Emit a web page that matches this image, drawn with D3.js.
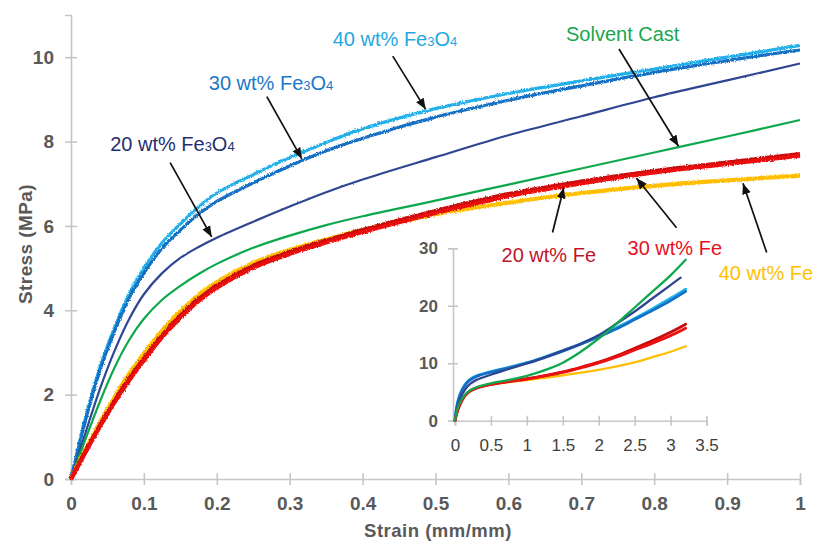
<!DOCTYPE html>
<html>
<head>
<meta charset="utf-8">
<script src="https://cdn.jsdelivr.net/npm/d3@7"></script>
<style>
  html, body { margin: 0; padding: 0; background: #fff; }
  svg { display: block; font-family: "Liberation Sans", Arial, sans-serif; }
</style>
</head>
<body>
<svg id="chart" width="818" height="542"></svg>
<script>
// ---- Main tensile curves: strain (mm/mm) vs stress (MPa) ----
const mainStrain  = [0, 0.02, 0.04, 0.06, 0.08, 0.1, 0.125, 0.15, 0.175, 0.2, 0.25, 0.3, 0.35, 0.4, 0.5, 0.6, 0.7, 0.8, 0.9, 1.0];
const fe3o4_40    = [0, 1.45, 2.65, 3.6, 4.4, 5.0, 5.6, 6.05, 6.45, 6.78, 7.22, 7.62, 7.98, 8.3, 8.78, 9.14, 9.44, 9.72, 10.0, 10.28];
const fe3o4_30    = [0, 1.4, 2.6, 3.52, 4.3, 4.88, 5.47, 5.9, 6.28, 6.58, 7.02, 7.42, 7.78, 8.08, 8.58, 8.98, 9.32, 9.64, 9.92, 10.17];
const fe3o4_20    = [0, 1.1, 2.15, 3.05, 3.8, 4.38, 4.88, 5.24, 5.5, 5.72, 6.1, 6.46, 6.8, 7.1, 7.63, 8.15, 8.6, 9.05, 9.45, 9.85];
const solventCast = [0, 0.95, 1.85, 2.65, 3.3, 3.8, 4.25, 4.58, 4.86, 5.1, 5.48, 5.77, 6.02, 6.23, 6.6, 6.98, 7.36, 7.74, 8.12, 8.51];
const fe_20       = [0, 0.65, 1.27, 1.85, 2.38, 2.85, 3.4, 3.87, 4.26, 4.58, 5.05, 5.38, 5.65, 5.9, 6.35, 6.75, 7.05, 7.3, 7.5, 7.7];
const fe_30       = [0, 0.63, 1.24, 1.81, 2.33, 2.8, 3.35, 3.82, 4.21, 4.53, 5.0, 5.33, 5.6, 5.85, 6.3, 6.7, 7.0, 7.26, 7.46, 7.66];
const fe_40       = [0, 0.7, 1.35, 1.95, 2.5, 2.98, 3.52, 3.98, 4.36, 4.67, 5.12, 5.43, 5.68, 5.9, 6.28, 6.55, 6.78, 6.95, 7.08, 7.19];

const mainXTicks = [0, 0.1, 0.2, 0.3, 0.4, 0.5, 0.6, 0.7, 0.8, 0.9, 1];
const mainYTicks = [0, 2, 4, 6, 8, 10];

// ---- Inset: full-range curves to break ----
const insetStrainA   = [0, 0.03, 0.07, 0.14, 0.21, 0.3, 0.5, 0.75, 1, 1.25, 1.5, 1.75, 2, 2.25, 2.5, 2.75, 3, 3.21];
const inset_fe3o4_40 = [0, 2.8, 4.6, 6.3, 7.2, 7.8, 8.55, 9.3, 10.1, 11.1, 12.2, 13.4, 14.7, 16.2, 17.8, 19.5, 21.3, 22.9];
const inset_fe3o4_30 = [0, 2.7, 4.5, 6.2, 7.1, 7.7, 8.45, 9.2, 10.0, 11.0, 12.1, 13.3, 14.6, 16.0, 17.6, 19.2, 20.9, 22.5];
const insetStrainB   = [0, 0.03, 0.07, 0.14, 0.21, 0.3, 0.5, 0.75, 1, 1.25, 1.5, 1.75, 2, 2.25, 2.5, 2.75, 3, 3.14];
const inset_fe3o4_20 = [0, 2.3, 3.8, 5.4, 6.4, 7.1, 8.0, 9.0, 10.0, 11.0, 12.2, 13.4, 14.9, 16.9, 19.0, 21.3, 23.6, 24.9];
const inset_solvent  = [0, 1.9, 3.2, 4.5, 5.3, 5.8, 6.5, 7.1, 7.8, 8.8, 10.1, 12.0, 14.3, 16.9, 19.7, 22.5, 25.3, 28.0];
const inset_fe_20    = [0, 1.6, 2.9, 4.4, 5.2, 5.7, 6.35, 6.85, 7.3, 7.85, 8.5, 9.3, 10.2, 11.3, 12.6, 13.95, 15.4, 16.8];
const inset_fe_30    = [0, 1.55, 2.85, 4.35, 5.15, 5.65, 6.3, 6.8, 7.25, 7.8, 8.4, 9.2, 10.05, 11.1, 12.3, 13.5, 14.8, 16.1];
const inset_fe_40    = [0, 1.6, 2.9, 4.4, 5.2, 5.7, 6.3, 6.7, 7.05, 7.45, 7.9, 8.35, 8.85, 9.45, 10.15, 11.05, 12.0, 12.95];

const insetXTicks = [0, 0.5, 1, 1.5, 2, 2.5, 3, 3.5];
const insetYTicks = [0, 10, 20, 30];

// ---- Series styling ----
const series = [
  { key: "fe3o4_40", main: fe3o4_40, ix: insetStrainA, iy: inset_fe3o4_40, color: "#22b0ea", text: "#1fa8e2", w: 3.2, rough: 3.6, iw: 2.8 },
  { key: "fe3o4_30", main: fe3o4_30, ix: insetStrainA, iy: inset_fe3o4_30, color: "#1370c4", text: "#1b78c8", w: 3.2, rough: 3.6, iw: 2.8 },
  { key: "fe3o4_20", main: fe3o4_20, ix: insetStrainB, iy: inset_fe3o4_20, color: "#2f4592", text: "#1f3070", w: 2.2, rough: 1.8, iw: 2.3 },
  { key: "solvent",  main: solventCast, ix: insetStrainA, iy: inset_solvent, color: "#10a84c", text: "#18a650", w: 2.2, rough: 1.5, iw: 2.3 },
  { key: "fe_40",    main: fe_40, ix: insetStrainA, iy: inset_fe_40, color: "#ffbf00", text: "#ffc000", w: 4.2, rough: 3.6, iw: 2.3 },
  { key: "fe_20",    main: fe_20, ix: insetStrainA, iy: inset_fe_20, color: "#c80a0a", text: "#c0142a", w: 4.4, rough: 3.6, iw: 2.8 },
  { key: "fe_30",    main: fe_30, ix: insetStrainA, iy: inset_fe_30, color: "#ec1010", text: "#e8101c", w: 3.6, rough: 3.6, iw: 2.8 }
];

// ---- Annotations: label, series, strain the arrow points at ----
const annotations = [
  { key: "fe3o4_40", strain: 0.488, label: ["40 wt% Fe", "3", "O", "4"], tail: [-34, -55], lab: [-60, -10], gap: 2 },
  { key: "fe3o4_30", strain: 0.318, label: ["30 wt% Fe", "3", "O", "4"], tail: [-36, -64], lab: [-58, -7], gap: 2 },
  { key: "fe3o4_20", strain: 0.195, label: ["20 wt% Fe", "3", "O", "4"], tail: [-43, -77], lab: [-60, -12], gap: 3 },
  { key: "solvent",  strain: 0.834, label: ["Solvent Cast"], tail: [-60, -98], lab: [-53, -8], gap: 1 },
  { key: "fe_20",    strain: 0.677, label: ["20 wt% Fe"], tail: [-12, 48], lab: [-51, 29], gap: 3 },
  { key: "fe_30",    strain: 0.773, label: ["30 wt% Fe"], tail: [42, 52], lab: [-49, 27], gap: 3 },
  { key: "fe_40",    strain: 0.92,  label: ["40 wt% Fe"], tail: [25, 73], lab: [-48, 28], gap: 4 }
];

const svg = d3.select("#chart");
const tickColor = "#595959";
const axisColor = "#c6c6c6";

// Ragged texture for the measured (noisy) traces
const defs = svg.append("defs");
series.forEach((s, i) => {
  const f = defs.append("filter").attr("id", "rough-" + s.key)
    .attr("filterUnits", "userSpaceOnUse").attr("x", 0).attr("y", 0).attr("width", 818).attr("height", 542);
  f.append("feTurbulence").attr("type", "fractalNoise").attr("baseFrequency", 0.75)
    .attr("numOctaves", 1).attr("seed", 3 + i).attr("result", "noise");
  f.append("feDisplacementMap").attr("in", "SourceGraphic").attr("in2", "noise")
    .attr("scale", s.rough).attr("xChannelSelector", "R").attr("yChannelSelector", "G");
});
defs.append("marker").attr("id", "arrowhead").attr("viewBox", "0 0 10 10")
  .attr("refX", 10).attr("refY", 5).attr("markerWidth", 11).attr("markerHeight", 11)
  .attr("markerUnits", "userSpaceOnUse").attr("orient", "auto")
  .append("path").attr("d", "M0,1 L10,5 L0,9 Z").attr("fill", "#111");

// ---- Main axes ----
const x = d3.scaleLinear().domain([0, 1]).range([71, 800]);
const y = d3.scaleLinear().domain([0, 11]).range([479, 15]);

function styleAxis(g, size) {
  g.select(".domain").attr("stroke", axisColor).attr("stroke-width", 1.6);
  g.selectAll(".tick line").attr("stroke", axisColor).attr("stroke-width", 1.6);
  g.selectAll(".tick text").attr("fill", tickColor).attr("font-size", size).attr("font-weight", "bold")
    .attr("font-family", "'Liberation Sans', Arial, sans-serif");
}

const xAxis = svg.append("g").attr("transform", `translate(0,${y(0)})`)
  .call(d3.axisBottom(x).tickValues(mainXTicks).tickFormat(d3.format("")).tickSizeOuter(0).tickSize(6).tickPadding(12));
styleAxis(xAxis, 19);
xAxis.selectAll(".tick line").attr("y1", -6);

const yAxis = svg.append("g").attr("transform", `translate(${x(0)},0)`)
  .call(d3.axisLeft(y).tickValues(mainYTicks).tickSizeOuter(0).tickSize(6).tickPadding(11));
styleAxis(yAxis, 19);
yAxis.selectAll(".tick line").attr("x1", 6);

svg.append("text").attr("x", 438).attr("y", 537).attr("text-anchor", "middle")
  .attr("font-size", 18.5).attr("font-weight", "bold").attr("fill", tickColor).attr("letter-spacing", 0.5)
  .text("Strain (mm/mm)");
svg.append("text").attr("transform", "translate(32,244) rotate(-90)").attr("text-anchor", "middle")
  .attr("font-size", 19).attr("font-weight", "bold").attr("fill", tickColor).attr("letter-spacing", 0.4)
  .text("Stress (MPa)");

// ---- Main curves ----
const mainLine = d3.line().x(d => x(d[0])).y(d => y(d[1])).curve(d3.curveCatmullRom.alpha(0.5));
const curvesG = svg.append("g");
series.forEach(s => {
  curvesG.append("path")
    .datum(mainStrain.map((v, i) => [v, s.main[i]]))
    .attr("d", mainLine).attr("fill", "none").attr("stroke", s.color)
    .attr("stroke-width", s.w).attr("stroke-linejoin", "round")
    .attr("filter", `url(#rough-${s.key})`);
});

// ---- Inset ----
const ix = d3.scaleLinear().domain([0, 3.5]).range([455, 706.5]);
const iy = d3.scaleLinear().domain([0, 30]).range([420.7, 248.3]);

const ixAxis = svg.append("g").attr("transform", `translate(0,${iy(0)})`)
  .call(d3.axisBottom(ix).tickValues(insetXTicks).tickFormat(d3.format("")).tickSizeOuter(0).tickSize(5).tickPadding(13));
styleAxis(ixAxis, 17);
ixAxis.selectAll(".tick line").attr("y1", -5);
ixAxis.selectAll(".tick text").attr("font-weight", "normal").attr("fill", "#404040");

const iyAxis = svg.append("g").attr("transform", `translate(${ix(0) - 2},0)`)
  .call(d3.axisLeft(iy).tickValues(insetYTicks).tickSizeOuter(0).tickSize(5).tickPadding(10));
styleAxis(iyAxis, 17);
iyAxis.selectAll(".tick line").attr("x1", 5);

const insetLine = d3.line().x(d => ix(d[0])).y(d => iy(d[1])).curve(d3.curveCatmullRom.alpha(0.5));
const insetOrder = ["fe3o4_40", "fe3o4_30", "fe3o4_20", "fe_40", "fe_20", "fe_30", "solvent"];
insetOrder.forEach(k => {
  const s = series.find(d => d.key === k);
  svg.append("path")
    .datum(s.ix.map((v, i) => [v, s.iy[i]]))
    .attr("d", insetLine).attr("fill", "none").attr("stroke", s.color)
    .attr("stroke-width", s.iw).attr("stroke-linecap", "round");
});

// ---- Annotations (arrows + labels) ----
const annG = svg.append("g");
annotations.forEach(a => {
  const s = series.find(d => d.key === a.key);
  // stress on the curve at the annotated strain (linear between recorded points)
  const j = d3.bisectRight(mainStrain, a.strain) - 1;
  const t = (a.strain - mainStrain[j]) / (mainStrain[j + 1] - mainStrain[j]);
  const v = s.main[j] + t * (s.main[j + 1] - s.main[j]);
  const px = x(a.strain), py = y(v);
  const tx = px + a.tail[0], ty = py + a.tail[1];
  const len = Math.hypot(px - tx, py - ty);
  const ex = px - (px - tx) / len * a.gap, ey = py - (py - ty) / len * a.gap;
  annG.append("line").attr("x1", tx).attr("y1", ty).attr("x2", ex).attr("y2", ey)
    .attr("stroke", "#111").attr("stroke-width", 1.7).attr("marker-end", "url(#arrowhead)");
  const txt = annG.append("text").attr("x", tx + a.lab[0]).attr("y", ty + a.lab[1])
    .attr("font-size", 20).attr("fill", s.text);
  txt.append("tspan").text(a.label[0]);
  if (a.label.length > 1) {
    txt.append("tspan").attr("font-size", 13).text(a.label[1]);
    txt.append("tspan").attr("font-size", 20).text(a.label[2]);
    txt.append("tspan").attr("font-size", 13).text(a.label[3]);
  }
});
</script>
</body>
</html>
